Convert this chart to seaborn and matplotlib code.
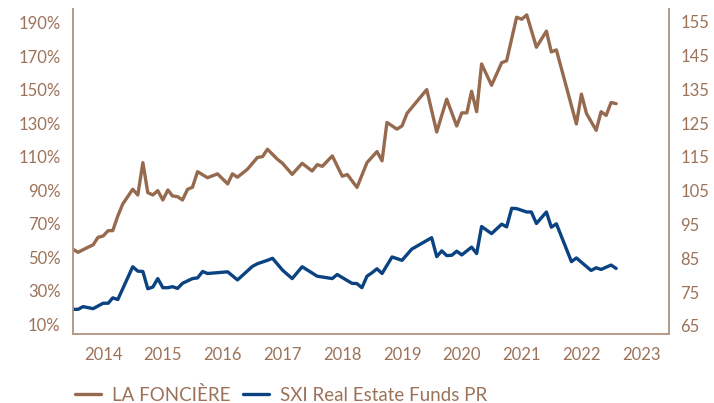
import pandas as pd
import matplotlib
matplotlib.use("Agg")
import matplotlib.pyplot as plt
import seaborn as sns

# LA FONCIÈRE (left axis, %)
fonciere_months = [
    "2013-07", "2013-08", "2013-10", "2013-11", "2013-12",
    "2014-01", "2014-02", "2014-03", "2014-04", "2014-05", "2014-07", "2014-08",
    "2014-09", "2014-10", "2014-11", "2014-12",
    "2015-01", "2015-02", "2015-03", "2015-04", "2015-05", "2015-06", "2015-07",
    "2015-08", "2015-10", "2015-12",
    "2016-02", "2016-03", "2016-04", "2016-06", "2016-08", "2016-09", "2016-10", "2016-12",
    "2017-01", "2017-03", "2017-05", "2017-07", "2017-08", "2017-09", "2017-11",
    "2018-01", "2018-02", "2018-04", "2018-06", "2018-08", "2018-09", "2018-10", "2018-12",
    "2019-01", "2019-02", "2019-06", "2019-08", "2019-10", "2019-12",
    "2020-01", "2020-02", "2020-03", "2020-04", "2020-05", "2020-07", "2020-09", "2020-10",
    "2020-12",
    "2021-01", "2021-02", "2021-04", "2021-06", "2021-07", "2021-08", "2021-12",
    "2022-01", "2022-02", "2022-04", "2022-05", "2022-06", "2022-07", "2022-08",
]
fonciere_values = [
    54.9, 53.1, 56.1, 57.5, 62.0,
    62.8, 66.0, 66.0, 74.8, 81.9, 90.7, 87.3,
    106.6, 88.7, 87.3, 89.9,
    84.3, 90.3, 86.7, 86.3, 84.3, 90.7, 91.9,
    101.2, 97.6, 99.9,
    93.9, 99.9, 97.9, 102.7, 109.7, 110.2, 114.6, 108.6,
    106.2, 99.6, 106.2, 101.6, 105.4, 104.4, 110.6,
    98.5, 99.5, 91.8, 106.6, 113.2, 107.7, 130.6, 126.6,
    128.5, 136.1, 150.2, 124.9, 144.5, 128.5,
    136.3, 136.3, 149.2, 137.0, 165.5, 152.8, 166.3, 167.4,
    193.4,
    192.2, 194.8, 175.5, 185.1, 172.7, 173.9, 129.7,
    147.5, 135.9, 125.9, 137.0, 134.8, 142.5, 141.8,
]

# SXI Real Estate Funds PR (right axis)
sxi_months = [
    "2013-07", "2013-08", "2013-09", "2013-11",
    "2014-01", "2014-02", "2014-03", "2014-04", "2014-07", "2014-08", "2014-09",
    "2014-10", "2014-11", "2014-12",
    "2015-01", "2015-02", "2015-03", "2015-04", "2015-05", "2015-07", "2015-08",
    "2015-09", "2015-10",
    "2016-02", "2016-04", "2016-07", "2016-08", "2016-10", "2016-11",
    "2017-01", "2017-03", "2017-05", "2017-08", "2017-11", "2017-12",
    "2018-03", "2018-04", "2018-05", "2018-06", "2018-07", "2018-08", "2018-09", "2018-11",
    "2019-01", "2019-03", "2019-07", "2019-08", "2019-09", "2019-10", "2019-11", "2019-12",
    "2020-01", "2020-03", "2020-04", "2020-05", "2020-07", "2020-09", "2020-10", "2020-11",
    "2020-12",
    "2021-02", "2021-03", "2021-04", "2021-06", "2021-07", "2021-08", "2021-11", "2021-12",
    "2022-03", "2022-04", "2022-05", "2022-07", "2022-08",
]
sxi_values = [
    69.9, 69.9, 70.7, 70.1,
    71.7, 71.7, 73.3, 72.8, 82.5, 81.2, 81.1,
    76.0, 76.5, 79.0,
    76.3, 76.3, 76.6, 76.1, 77.6, 79.0, 79.2,
    81.1, 80.5,
    81.0, 78.6, 82.6, 83.4, 84.4, 85.0,
    81.5, 79.0, 82.5, 79.7, 79.0, 80.2,
    77.6, 77.5, 76.3, 79.7, 80.7, 81.9, 80.5, 85.4,
    84.4, 87.7, 91.1, 85.5, 87.2, 85.8, 85.9, 87.1,
    86.0, 88.3, 86.4, 94.4, 92.3, 95.1, 94.3, 99.8,
    99.7,
    98.7, 98.7, 95.3, 98.7, 94.2, 95.2, 84.0, 85.1,
    81.4, 82.2, 81.7, 83.0, 82.0,
]

years = list(range(2014, 2024))
left_ticks = list(range(10, 191, 20))
right_ticks = list(range(65, 156, 10))

BROWN = "#966a4e"
BLUE = "#0b4382"
SPINE = "#b59a88"
TEXT = "#9c7259"

sns.set_theme(style="white")
plt.rcParams['font.family'] = ['Lato', 'DejaVu Sans']

df_f = pd.DataFrame({"date": pd.to_datetime(fonciere_months), "value": fonciere_values})
df_s = pd.DataFrame({"date": pd.to_datetime(sxi_months), "value": sxi_values})

fig, ax = plt.subplots(figsize=(7.14, 4.03), dpi=100)
fig.subplots_adjust(left=0.1022, right=0.937, bottom=0.1712, top=0.978)
ax2 = ax.twinx()

sns.lineplot(data=df_f, x="date", y="value", ax=ax, color=BROWN, lw=2.4,
             label="LA FONCIÈRE", legend=False)
sns.lineplot(data=df_s, x="date", y="value", ax=ax2, color=BLUE, lw=2.4,
             label="SXI Real Estate Funds PR", legend=False)

ax.set_xlim(pd.Timestamp("2013-07-01"), pd.Timestamp("2023-06-20"))
ax.set_ylim(4.3, 198.4)
ax2.set_ylim(62.6, 158.8)

ax.set_xticks([pd.Timestamp(f"{y}-01-01") for y in years])
ax.set_xticklabels([str(y) for y in years])
ax.set_yticks(left_ticks)
ax.set_yticklabels([f"{v}%" for v in left_ticks])
ax2.set_yticks(right_ticks)
ax2.set_yticklabels([str(v) for v in right_ticks])

ax.set_xlabel("")
ax.set_ylabel("")
ax2.set_ylabel("")

for a in (ax, ax2):
    a.spines["top"].set_visible(False)
    for side in ("left", "bottom", "right"):
        a.spines[side].set_color(SPINE)
        a.spines[side].set_linewidth(1.2)
ax.tick_params(axis="y", length=0, pad=9, labelsize=12, labelcolor=TEXT)
ax.tick_params(axis="x", length=0, pad=9, labelsize=12, labelcolor=TEXT)
ax2.tick_params(axis="y", length=0, pad=8, labelsize=12, labelcolor=TEXT)

h1, l1 = ax.get_legend_handles_labels()
h2, l2 = ax2.get_legend_handles_labels()
leg = fig.legend(h1 + h2, l1 + l2, loc="center left", bbox_to_anchor=(0.105, 0.02),
                 ncol=2, frameon=False, fontsize=13.5, handlelength=1.4,
                 handletextpad=0.55, columnspacing=0.7, borderpad=0, borderaxespad=0)
for t in leg.get_texts():
    t.set_color(TEXT)

fig.savefig("out.png", dpi=100)
